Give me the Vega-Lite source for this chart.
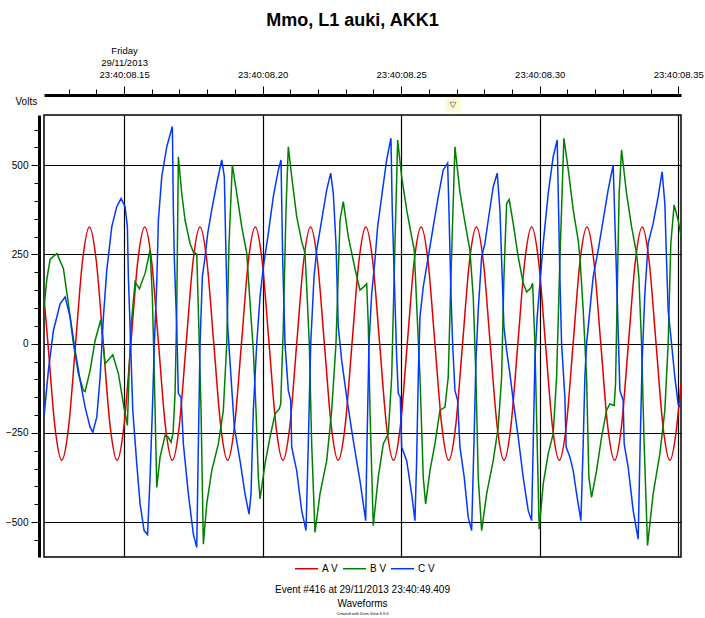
{
"$schema":"https://vega.github.io/schema/vega-lite/v6.json",
"width":637,"height":442,
"autosize":{"type":"none"},
"padding":{"left":44,"top":115,"right":24,"bottom":61},
"background":"white",
"config":{"font":"Liberation Sans","view":{"stroke":"black","strokeWidth":1.5},
 "axis":{"labelColor":"black","tickColor":"black","domainColor":"black","titleColor":"black","labelFont":"Liberation Sans","titleFont":"Liberation Sans"},
 "legend":{"orient":"none","legendX":250,"legendY":441,"direction":"horizontal","symbolType":"stroke","symbolSize":529,"symbolStrokeWidth":1.5,"labelFontSize":10,"labelColor":"black","columnPadding":1,"labelOffset":3}},
"title":{"text":["Event #416 at 29/11/2013 23:40:49.409","Waveforms"],"orient":"bottom","subtitle":"Created with Dran-View 6.9.0","fontSize":10,"fontWeight":"normal","color":"black","subtitleFontSize":4,"subtitleColor":"black","anchor":"middle","lineHeight":14,"offset":11,"subtitlePadding":3},
"datasets":{
"cur":[{"t":268.7,"v":669}],
"w":[
{"s":"A V","t":121.1,"v":130},{"s":"A V","t":122.53,"v":0},{"s":"A V","t":125.02,"v":-231},{"s":"A V","t":127.51,"v":-327},{"s":"A V","t":130.01,"v":-231},{"s":"A V","t":132.5,"v":0},{"s":"A V","t":134.99,"v":231},{"s":"A V","t":137.49,"v":327},{"s":"A V","t":139.98,"v":231},{"s":"A V","t":142.48,"v":0},{"s":"A V","t":144.97,"v":-231},{"s":"A V","t":147.47,"v":-327},{"s":"A V","t":149.96,"v":-231},{"s":"A V","t":152.45,"v":0},{"s":"A V","t":154.95,"v":231},{"s":"A V","t":157.44,"v":327},{"s":"A V","t":159.94,"v":231},{"s":"A V","t":162.43,"v":0},{"s":"A V","t":164.92,"v":-231},{"s":"A V","t":167.42,"v":-327},{"s":"A V","t":169.91,"v":-231},{"s":"A V","t":172.41,"v":0},{"s":"A V","t":174.9,"v":231},{"s":"A V","t":177.39,"v":327},{"s":"A V","t":179.89,"v":231},{"s":"A V","t":182.38,"v":0},{"s":"A V","t":184.88,"v":-231},{"s":"A V","t":187.37,"v":-327},{"s":"A V","t":189.86,"v":-231},{"s":"A V","t":192.36,"v":0},{"s":"A V","t":194.85,"v":231},{"s":"A V","t":197.35,"v":327},{"s":"A V","t":199.84,"v":231},{"s":"A V","t":202.33,"v":0},{"s":"A V","t":204.83,"v":-231},{"s":"A V","t":207.32,"v":-327},{"s":"A V","t":209.82,"v":-231},{"s":"A V","t":212.31,"v":0},{"s":"A V","t":214.8,"v":231},{"s":"A V","t":217.3,"v":327},{"s":"A V","t":219.79,"v":231},{"s":"A V","t":222.29,"v":0},{"s":"A V","t":224.78,"v":-231},{"s":"A V","t":227.27,"v":-327},{"s":"A V","t":229.77,"v":-231},{"s":"A V","t":232.26,"v":0},{"s":"A V","t":234.76,"v":231},{"s":"A V","t":237.25,"v":327},{"s":"A V","t":239.74,"v":231},{"s":"A V","t":242.24,"v":0},{"s":"A V","t":244.73,"v":-231},{"s":"A V","t":247.23,"v":-327},{"s":"A V","t":249.72,"v":-231},{"s":"A V","t":252.21,"v":0},{"s":"A V","t":254.71,"v":231},{"s":"A V","t":257.2,"v":327},{"s":"A V","t":259.7,"v":231},{"s":"A V","t":262.19,"v":0},{"s":"A V","t":264.68,"v":-231},{"s":"A V","t":267.18,"v":-327},{"s":"A V","t":269.67,"v":-231},{"s":"A V","t":272.17,"v":0},{"s":"A V","t":274.66,"v":231},{"s":"A V","t":277.15,"v":327},{"s":"A V","t":279.65,"v":231},{"s":"A V","t":282.14,"v":0},{"s":"A V","t":284.64,"v":-231},{"s":"A V","t":287.13,"v":-327},{"s":"A V","t":289.62,"v":-231},{"s":"A V","t":292.12,"v":0},{"s":"A V","t":294.61,"v":231},{"s":"A V","t":297.11,"v":327},{"s":"A V","t":299.6,"v":231},{"s":"A V","t":302.09,"v":0},{"s":"A V","t":304.59,"v":-231},{"s":"A V","t":307.08,"v":-327},{"s":"A V","t":309.58,"v":-231},{"s":"A V","t":312.07,"v":0},{"s":"A V","t":314.56,"v":231},{"s":"A V","t":317.06,"v":327},{"s":"A V","t":319.55,"v":231},{"s":"A V","t":322.05,"v":0},{"s":"A V","t":324.54,"v":-231},{"s":"A V","t":327.03,"v":-327},{"s":"A V","t":329.53,"v":-231},{"s":"A V","t":332.02,"v":0},{"s":"A V","t":334.52,"v":231},{"s":"A V","t":337.01,"v":327},{"s":"A V","t":339.5,"v":231},{"s":"A V","t":342,"v":0},{"s":"A V","t":344.49,"v":-231},{"s":"A V","t":346.99,"v":-327},{"s":"A V","t":349.48,"v":-231},{"s":"A V","t":351,"v":-110},
{"s":"B V","t":121.14,"v":103},{"s":"B V","t":122.12,"v":180},{"s":"B V","t":123.31,"v":236},{"s":"B V","t":125.72,"v":253},{"s":"B V","t":128.11,"v":210},{"s":"B V","t":129.91,"v":112},{"s":"B V","t":131.71,"v":0},{"s":"B V","t":133.52,"v":-84},{"s":"B V","t":135.32,"v":-131},{"s":"B V","t":135.93,"v":-134},{"s":"B V","t":137.74,"v":-75},{"s":"B V","t":139.54,"v":9},{"s":"B V","t":141.6,"v":67},{"s":"B V","t":143.15,"v":-56},{"s":"B V","t":145.93,"v":-31},{"s":"B V","t":147.95,"v":-84},{"s":"B V","t":149.75,"v":-169},{"s":"B V","t":151.19,"v":-229},{"s":"B V","t":151.91,"v":-60},{"s":"B V","t":152.53,"v":50},{"s":"B V","t":153.97,"v":173},{"s":"B V","t":155.52,"v":154},{"s":"B V","t":157.58,"v":197},{"s":"B V","t":159.38,"v":262},{"s":"B V","t":160.21,"v":131},{"s":"B V","t":160.93,"v":-94},{"s":"B V","t":161.8,"v":-403},{"s":"B V","t":162.99,"v":-318},{"s":"B V","t":164.79,"v":-257},{"s":"B V","t":165.88,"v":-262},{"s":"B V","t":166.96,"v":-276},{"s":"B V","t":167.68,"v":-250},{"s":"B V","t":168.4,"v":-140},{"s":"B V","t":169.01,"v":94},{"s":"B V","t":169.59,"v":524},{"s":"B V","t":170.82,"v":421},{"s":"B V","t":172.01,"v":346},{"s":"B V","t":173.81,"v":281},{"s":"B V","t":175,"v":257},{"s":"B V","t":176.23,"v":251},{"s":"B V","t":176.81,"v":94},{"s":"B V","t":177.78,"v":-187},{"s":"B V","t":178.61,"v":-562},{"s":"B V","t":179.84,"v":-449},{"s":"B V","t":181.64,"v":-356},{"s":"B V","t":184.02,"v":-281},{"s":"B V","t":185.82,"v":-187},{"s":"B V","t":187.05,"v":0},{"s":"B V","t":187.88,"v":281},{"s":"B V","t":189.07,"v":501},{"s":"B V","t":190.66,"v":421},{"s":"B V","t":192.46,"v":328},{"s":"B V","t":194.27,"v":253},{"s":"B V","t":195.46,"v":115},{"s":"B V","t":196.65,"v":-19},{"s":"B V","t":197.62,"v":-187},{"s":"B V","t":198.45,"v":-374},{"s":"B V","t":199.07,"v":-435},{"s":"B V","t":200.87,"v":-337},{"s":"B V","t":202.67,"v":-262},{"s":"B V","t":204.48,"v":-197},{"s":"B V","t":206.03,"v":-183},{"s":"B V","t":206.53,"v":-169},{"s":"B V","t":207.47,"v":47},{"s":"B V","t":208.44,"v":375},{"s":"B V","t":209.27,"v":552},{"s":"B V","t":210.5,"v":468},{"s":"B V","t":212.3,"v":356},{"s":"B V","t":214.11,"v":286},{"s":"B V","t":215.3,"v":253},{"s":"B V","t":215.91,"v":159},{"s":"B V","t":216.85,"v":0},{"s":"B V","t":217.71,"v":-281},{"s":"B V","t":218.91,"v":-529},{"s":"B V","t":220.71,"v":-421},{"s":"B V","t":223.13,"v":-328},{"s":"B V","t":224.93,"v":-187},{"s":"B V","t":226.48,"v":0},{"s":"B V","t":227.93,"v":346},{"s":"B V","t":229.12,"v":398},{"s":"B V","t":230.92,"v":300},{"s":"B V","t":233.34,"v":210},{"s":"B V","t":235.14,"v":150},{"s":"B V","t":236.58,"v":160},{"s":"B V","t":237.56,"v":168},{"s":"B V","t":238.13,"v":56},{"s":"B V","t":238.75,"v":-187},{"s":"B V","t":239.94,"v":-510},{"s":"B V","t":241.74,"v":-374},{"s":"B V","t":243.55,"v":-281},{"s":"B V","t":245.35,"v":-253},{"s":"B V","t":246.58,"v":-94},{"s":"B V","t":247.77,"v":281},{"s":"B V","t":248.74,"v":571},{"s":"B V","t":250.18,"v":468},{"s":"B V","t":251.99,"v":375},{"s":"B V","t":253.79,"v":300},{"s":"B V","t":254.73,"v":262},{"s":"B V","t":255.59,"v":112},{"s":"B V","t":256.79,"v":-94},{"s":"B V","t":257.98,"v":-375},{"s":"B V","t":258.84,"v":-449},{"s":"B V","t":260.39,"v":-356},{"s":"B V","t":262.2,"v":-281},{"s":"B V","t":264,"v":-187},{"s":"B V","t":265.8,"v":-178},{"s":"B V","t":266.99,"v":-94},{"s":"B V","t":267.97,"v":187},{"s":"B V","t":269.41,"v":552},{"s":"B V","t":271.22,"v":425},{"s":"B V","t":273.02,"v":340},{"s":"B V","t":274.82,"v":262},{"s":"B V","t":276.02,"v":131},{"s":"B V","t":276.99,"v":-94},{"s":"B V","t":277.82,"v":-375},{"s":"B V","t":279.05,"v":-524},{"s":"B V","t":280.85,"v":-421},{"s":"B V","t":283.23,"v":-328},{"s":"B V","t":285.03,"v":-234},{"s":"B V","t":286.26,"v":-94},{"s":"B V","t":287.09,"v":187},{"s":"B V","t":288.06,"v":393},{"s":"B V","t":289,"v":404},{"s":"B V","t":290.44,"v":337},{"s":"B V","t":292.25,"v":243},{"s":"B V","t":294.05,"v":169},{"s":"B V","t":295.28,"v":145},{"s":"B V","t":296.72,"v":155},{"s":"B V","t":297.44,"v":169},{"s":"B V","t":298.27,"v":0},{"s":"B V","t":299.1,"v":-281},{"s":"B V","t":299.82,"v":-520},{"s":"B V","t":301.27,"v":-393},{"s":"B V","t":303.07,"v":-309},{"s":"B V","t":304.87,"v":-253},{"s":"B V","t":306.1,"v":-94},{"s":"B V","t":307.29,"v":234},{"s":"B V","t":308.73,"v":576},{"s":"B V","t":310.28,"v":490},{"s":"B V","t":312.09,"v":375},{"s":"B V","t":313.89,"v":290},{"s":"B V","t":314.51,"v":243},{"s":"B V","t":315.7,"v":94},{"s":"B V","t":316.92,"v":-94},{"s":"B V","t":317.75,"v":-375},{"s":"B V","t":318.72,"v":-431},{"s":"B V","t":320.53,"v":-356},{"s":"B V","t":322.33,"v":-262},{"s":"B V","t":324.13,"v":-187},{"s":"B V","t":325.33,"v":-169},{"s":"B V","t":326.88,"v":-173},{"s":"B V","t":327.38,"v":-112},{"s":"B V","t":328.1,"v":187},{"s":"B V","t":328.68,"v":421},{"s":"B V","t":329.55,"v":543},{"s":"B V","t":331.35,"v":421},{"s":"B V","t":333.15,"v":328},{"s":"B V","t":334.96,"v":253},{"s":"B V","t":335.79,"v":187},{"s":"B V","t":336.76,"v":0},{"s":"B V","t":337.7,"v":-281},{"s":"B V","t":338.92,"v":-566},{"s":"B V","t":340.94,"v":-421},{"s":"B V","t":343.37,"v":-309},{"s":"B V","t":345.17,"v":-187},{"s":"B V","t":346.36,"v":0},{"s":"B V","t":347.33,"v":281},{"s":"B V","t":348.52,"v":389},{"s":"B V","t":349.97,"v":346},{"s":"B V","t":350.94,"v":304},
{"s":"C V","t":121.14,"v":-201},{"s":"C V","t":122.69,"v":-75},{"s":"C V","t":124.5,"v":37},{"s":"C V","t":126.92,"v":112},{"s":"C V","t":128.72,"v":131},{"s":"C V","t":130.52,"v":75},{"s":"C V","t":132.33,"v":-19},{"s":"C V","t":134.13,"v":-103},{"s":"C V","t":135.93,"v":-178},{"s":"C V","t":137.74,"v":-234},{"s":"C V","t":138.71,"v":-248},{"s":"C V","t":140.15,"v":-206},{"s":"C V","t":141.35,"v":-94},{"s":"C V","t":142.54,"v":75},{"s":"C V","t":143.76,"v":206},{"s":"C V","t":145.57,"v":328},{"s":"C V","t":147.37,"v":384},{"s":"C V","t":148.92,"v":407},{"s":"C V","t":150.36,"v":384},{"s":"C V","t":151.19,"v":328},{"s":"C V","t":151.55,"v":187},{"s":"C V","t":152.17,"v":47},{"s":"C V","t":153.14,"v":-187},{"s":"C V","t":154.58,"v":-337},{"s":"C V","t":155.78,"v":-449},{"s":"C V","t":157.22,"v":-524},{"s":"C V","t":158.48,"v":-535},{"s":"C V","t":159.38,"v":-375},{"s":"C V","t":160.21,"v":-187},{"s":"C V","t":160.93,"v":0},{"s":"C V","t":161.8,"v":169},{"s":"C V","t":162.38,"v":346},{"s":"C V","t":163.6,"v":468},{"s":"C V","t":165.41,"v":552},{"s":"C V","t":167.43,"v":609},{"s":"C V","t":167.79,"v":375},{"s":"C V","t":168.15,"v":234},{"s":"C V","t":169.01,"v":47},{"s":"C V","t":169.59,"v":-140},{"s":"C V","t":170.57,"v":-150},{"s":"C V","t":171.4,"v":-281},{"s":"C V","t":173.2,"v":-421},{"s":"C V","t":175,"v":-534},{"s":"C V","t":176.23,"v":-571},{"s":"C V","t":176.81,"v":-281},{"s":"C V","t":177.42,"v":0},{"s":"C V","t":178.25,"v":187},{"s":"C V","t":179.22,"v":243},{"s":"C V","t":180.19,"v":309},{"s":"C V","t":181.64,"v":375},{"s":"C V","t":183.44,"v":449},{"s":"C V","t":185.25,"v":515},{"s":"C V","t":186.19,"v":468},{"s":"C V","t":186.69,"v":281},{"s":"C V","t":187.41,"v":47},{"s":"C V","t":188.6,"v":-94},{"s":"C V","t":189.79,"v":-234},{"s":"C V","t":191.85,"v":-328},{"s":"C V","t":193.65,"v":-421},{"s":"C V","t":195.1,"v":-478},{"s":"C V","t":195.82,"v":-421},{"s":"C V","t":196.65,"v":-187},{"s":"C V","t":197.88,"v":0},{"s":"C V","t":199.07,"v":131},{"s":"C V","t":200.26,"v":215},{"s":"C V","t":202.06,"v":309},{"s":"C V","t":203.86,"v":412},{"s":"C V","t":205.67,"v":487},{"s":"C V","t":206.64,"v":515},{"s":"C V","t":207.25,"v":234},{"s":"C V","t":208.08,"v":0},{"s":"C V","t":209.27,"v":-131},{"s":"C V","t":210.14,"v":-159},{"s":"C V","t":210.5,"v":-290},{"s":"C V","t":212.3,"v":-356},{"s":"C V","t":214.11,"v":-468},{"s":"C V","t":215.66,"v":-524},{"s":"C V","t":216.49,"v":-281},{"s":"C V","t":217.36,"v":0},{"s":"C V","t":218.55,"v":187},{"s":"C V","t":219.52,"v":262},{"s":"C V","t":221.32,"v":346},{"s":"C V","t":223.13,"v":431},{"s":"C V","t":224.57,"v":478},{"s":"C V","t":225.51,"v":421},{"s":"C V","t":226.48,"v":281},{"s":"C V","t":227.31,"v":47},{"s":"C V","t":228.54,"v":-47},{"s":"C V","t":230.34,"v":-150},{"s":"C V","t":232.15,"v":-243},{"s":"C V","t":233.7,"v":-318},{"s":"C V","t":235.14,"v":-384},{"s":"C V","t":237.2,"v":-496},{"s":"C V","t":237.67,"v":-281},{"s":"C V","t":238.39,"v":0},{"s":"C V","t":239.36,"v":140},{"s":"C V","t":240.55,"v":234},{"s":"C V","t":241.52,"v":328},{"s":"C V","t":242.97,"v":412},{"s":"C V","t":244.77,"v":515},{"s":"C V","t":246.32,"v":576},{"s":"C V","t":246.79,"v":375},{"s":"C V","t":247.51,"v":187},{"s":"C V","t":248.38,"v":-37},{"s":"C V","t":248.96,"v":-140},{"s":"C V","t":249.68,"v":-150},{"s":"C V","t":250.18,"v":-290},{"s":"C V","t":251.99,"v":-328},{"s":"C V","t":253.79,"v":-421},{"s":"C V","t":254.98,"v":-496},{"s":"C V","t":255.59,"v":-328},{"s":"C V","t":256.17,"v":-94},{"s":"C V","t":256.79,"v":75},{"s":"C V","t":257.98,"v":159},{"s":"C V","t":259.78,"v":243},{"s":"C V","t":261.58,"v":328},{"s":"C V","t":263.39,"v":412},{"s":"C V","t":265.19,"v":487},{"s":"C V","t":266.78,"v":506},{"s":"C V","t":267.25,"v":375},{"s":"C V","t":267.97,"v":140},{"s":"C V","t":268.58,"v":0},{"s":"C V","t":269.41,"v":-131},{"s":"C V","t":270.38,"v":-159},{"s":"C V","t":271.22,"v":-290},{"s":"C V","t":272.77,"v":-375},{"s":"C V","t":274.21,"v":-487},{"s":"C V","t":275.44,"v":-524},{"s":"C V","t":276.27,"v":-281},{"s":"C V","t":276.99,"v":-47},{"s":"C V","t":277.82,"v":94},{"s":"C V","t":279.05,"v":243},{"s":"C V","t":280.23,"v":281},{"s":"C V","t":281.42,"v":346},{"s":"C V","t":283.23,"v":440},{"s":"C V","t":284.67,"v":478},{"s":"C V","t":285.65,"v":375},{"s":"C V","t":286.26,"v":234},{"s":"C V","t":287.09,"v":47},{"s":"C V","t":288.06,"v":-19},{"s":"C V","t":289.25,"v":-84},{"s":"C V","t":290.44,"v":-159},{"s":"C V","t":292.25,"v":-262},{"s":"C V","t":294.05,"v":-375},{"s":"C V","t":295.86,"v":-468},{"s":"C V","t":297.08,"v":-496},{"s":"C V","t":297.66,"v":-281},{"s":"C V","t":298.27,"v":-47},{"s":"C V","t":299.1,"v":75},{"s":"C V","t":300.08,"v":169},{"s":"C V","t":301.27,"v":281},{"s":"C V","t":303.07,"v":421},{"s":"C V","t":304.87,"v":524},{"s":"C V","t":306.32,"v":571},{"s":"C V","t":306.82,"v":375},{"s":"C V","t":307.29,"v":187},{"s":"C V","t":307.9,"v":0},{"s":"C V","t":309.09,"v":-150},{"s":"C V","t":309.56,"v":-290},{"s":"C V","t":310.9,"v":-318},{"s":"C V","t":312.09,"v":-356},{"s":"C V","t":313.32,"v":-421},{"s":"C V","t":314.87,"v":-496},{"s":"C V","t":315.7,"v":-281},{"s":"C V","t":316.31,"v":-94},{"s":"C V","t":316.92,"v":0},{"s":"C V","t":318.11,"v":94},{"s":"C V","t":319.3,"v":187},{"s":"C V","t":321.11,"v":262},{"s":"C V","t":322.91,"v":346},{"s":"C V","t":324.71,"v":431},{"s":"C V","t":326.52,"v":501},{"s":"C V","t":327.38,"v":281},{"s":"C V","t":328.1,"v":94},{"s":"C V","t":328.94,"v":-131},{"s":"C V","t":330.13,"v":-159},{"s":"C V","t":330.49,"v":-281},{"s":"C V","t":331.93,"v":-346},{"s":"C V","t":333.74,"v":-468},{"s":"C V","t":335.54,"v":-548},{"s":"C V","t":336.26,"v":-281},{"s":"C V","t":336.98,"v":-47},{"s":"C V","t":337.95,"v":140},{"s":"C V","t":339.14,"v":281},{"s":"C V","t":340.95,"v":337},{"s":"C V","t":342.75,"v":412},{"s":"C V","t":344.19,"v":482},{"s":"C V","t":345.17,"v":393},{"s":"C V","t":345.78,"v":234},{"s":"C V","t":346.36,"v":94},{"s":"C V","t":347.59,"v":0},{"s":"C V","t":348.78,"v":-94},{"s":"C V","t":349.97,"v":-169},{"s":"C V","t":350.94,"v":-180}
]},
"layer":[
{"data":{"name":"w"},"transform":[{"filter":"datum.s == 'A V'"}],
 "mark":{"type":"line","strokeWidth":1.5,"interpolate":"monotone","clip":true},
 "encoding":{
  "x":{"field":"t","type":"quantitative","scale":{"domain":[121.1,351],"nice":false,"zero":false},
   "axis":{"orient":"top","offset":20,"values":[150,200,250,300,350],"labelExpr":"'23:40:08.' + format(datum.value/10,'02d')","labelFontSize":9.5,"labelFlush":false,"labelOverlap":false,"labelPadding":7,"labelBaseline":"bottom","tickSize":9,"tickWidth":1,"domainWidth":3,"grid":true,"gridColor":"black","gridWidth":1.2,"gridOpacity":1,"title":"Mmo, L1 auki, AKK1","titleFontSize":18,"titleFontWeight":"bold","titlePadding":40,"titleX":308}},
  "y":{"field":"v","type":"quantitative","scale":{"domain":[-598,641],"nice":false,"zero":false},
   "axis":{"orient":"left","offset":5,"values":[-500,-250,0,250,500],"tickSize":8,"tickWidth":1,"domainWidth":3,"grid":true,"gridColor":"black","gridWidth":1.2,"gridOpacity":1,"labelFontSize":10,"labelPadding":3,"title":"Volts","titleAngle":0,"titleFontSize":10,"titleFontWeight":"normal","titleX":-24,"titleY":-14,"titleAlign":"left","titleBaseline":"middle"}},
  "color":{"field":"s","type":"nominal","title":null,"scale":{"domain":["A V","B V","C V"],"range":["#e00000","#008000","#0038ff"]}}}},
{"data":{"name":"w"},"transform":[{"filter":"datum.s != 'A V'"}],
 "mark":{"type":"line","strokeWidth":1.5,"interpolate":"linear","clip":true},
 "encoding":{
  "x":{"field":"t","type":"quantitative","scale":{"domain":[121.1,351],"nice":false,"zero":false},"axis":null},
  "y":{"field":"v","type":"quantitative","scale":{"domain":[-598,641],"nice":false,"zero":false},"axis":null},
  "color":{"field":"s","type":"nominal","title":null,"scale":{"domain":["A V","B V","C V"],"range":["#e00000","#008000","#0038ff"]}}}},
{"data":{"name":"cur"},
 "mark":{"type":"point","shape":"square","filled":true,"color":"#fff8d6","size":240,"opacity":1},
 "encoding":{
  "x":{"field":"t","type":"quantitative","scale":{"domain":[121.1,351],"nice":false,"zero":false},
   "axis":{"orient":"top","offset":20,"values":[130,140,160,170,180,190,210,220,230,240,260,270,280,290,310,320,330,340],"labels":false,"tickSize":6,"tickWidth":1,"domain":false,"grid":false,"title":null}},
  "y":{"field":"v","type":"quantitative","scale":{"domain":[-598,641],"nice":false,"zero":false},
   "axis":{"orient":"left","offset":5,"values":[-550,-450,-400,-350,-300,-200,-150,-100,-50,50,100,150,200,300,350,400,450,550,600],"labels":false,"tickSize":5,"tickWidth":1,"domain":false,"grid":false,"title":null}}}},
{"data":{"name":"cur"},
 "mark":{"type":"point","shape":"triangle-down","filled":false,"stroke":"#666666","strokeWidth":1,"size":40},
 "encoding":{
  "x":{"field":"t","type":"quantitative","scale":{"domain":[121.1,351],"nice":false,"zero":false},
   "axis":{"orient":"top","offset":20,"values":[150],"labelExpr":"['Friday','29/11/2013']","labelFontSize":9.5,"labelLineHeight":12,"labelFlush":false,"labelOverlap":false,"labelPadding":31,"labelBaseline":"bottom","tickSize":9,"tickOpacity":0,"domain":false,"grid":false,"title":null}},
  "y":{"field":"v","type":"quantitative","scale":{"domain":[-598,641],"nice":false,"zero":false},"axis":null}}}
],
"resolve":{"axis":{"x":"independent","y":"independent"}}
}
